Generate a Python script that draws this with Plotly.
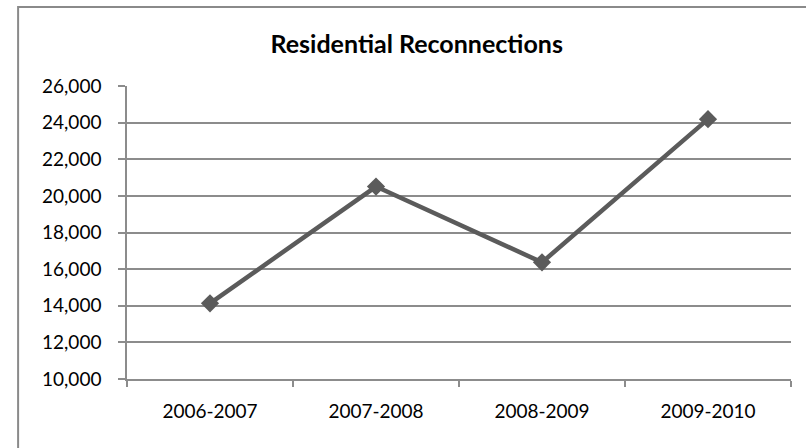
import plotly.graph_objects as go

# Reconnection counts by fiscal year
periods = ["2006-2007", "2007-2008", "2008-2009", "2009-2010"]
reconnections = [14130, 20510, 16370, 24190]

y_ticks = list(range(10000, 26001, 2000))

GRID = "#8c8c8c"
LINE = "#5b5b5b"
FONT = "Lato, 'DejaVu Sans', sans-serif"

fig = go.Figure(
    go.Scatter(
        x=periods,
        y=reconnections,
        mode="lines+markers",
        line=dict(color=LINE, width=4.5),
        marker=dict(symbol="diamond", size=14, color=LINE),
        cliponaxis=False,
        hoverinfo="x+y",
    )
)

fig.update_layout(
    width=806,
    height=448,
    margin=dict(l=127, r=15, t=86, b=69),
    paper_bgcolor="white",
    plot_bgcolor="white",
    showlegend=False,
    font=dict(family=FONT, color="#000000", size=19),
    title=dict(
        text="<b>Residential Reconnections</b>",
        font=dict(family=FONT, size=25, color="#000000"),
        x=0.517,
        xanchor="center",
        xref="container",
        y=0.902,
        yanchor="middle",
        yref="container",
    ),
)

fig.update_xaxes(
    type="category",
    range=[-0.5, 3.5],
    showgrid=False,
    showline=True,
    linecolor=GRID,
    linewidth=1.5,
    ticks="outside",
    tickson="boundaries",
    ticklen=6,
    tickcolor=GRID,
    tickwidth=1.5,
    ticklabelstandoff=14,
    tickfont=dict(family=FONT, size=19, color="#000000"),
)

fig.update_yaxes(
    range=[10000, 26000],
    tickvals=y_ticks,
    tickformat=",d",
    showgrid=True,
    gridcolor=GRID,
    gridwidth=1.5,
    showline=True,
    linecolor=GRID,
    linewidth=1.5,
    ticks="outside",
    ticklen=7,
    tickcolor=GRID,
    tickwidth=1.5,
    ticklabelstandoff=13,
    tickfont=dict(family=FONT, size=19, color="#000000"),
    zeroline=False,
)

# Chart-area frame (runs off the right and bottom edges)
fig.add_shape(
    type="rect",
    xref="paper",
    yref="paper",
    x0=-0.164,
    x1=1.2,
    y0=-0.4,
    y1=1.27,
    line=dict(color="#8a8a8a", width=2),
    fillcolor="rgba(0,0,0,0)",
    layer="below",
)

fig.write_html("out.html")
